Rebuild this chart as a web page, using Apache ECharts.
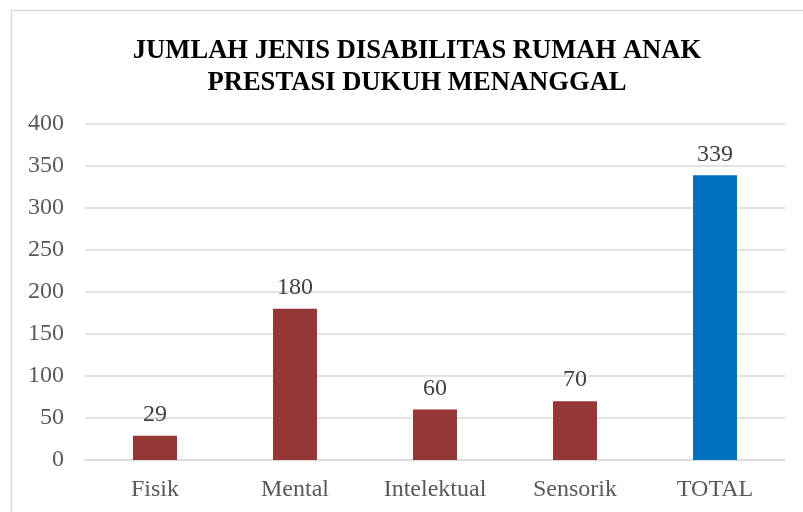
<!DOCTYPE html>
<html>
<head>
<meta charset="utf-8">
<script src="https://cdn.jsdelivr.net/npm/echarts@6/dist/echarts.min.js"></script>
<style>
  html, body { margin: 0; padding: 0; background: #fff; }
  #chart { width: 803px; height: 512px; }
</style>
</head>
<body>
<div id="chart"></div>
<script>
  // data
  const categories = ['Fisik', 'Mental', 'Intelektual', 'Sensorik', 'TOTAL'];
  const values = [29, 180, 60, 70, 339];
  const barColors = ['#953735', '#953735', '#953735', '#953735', '#0070C0'];
  const titleText = 'JUMLAH JENIS DISABILITAS RUMAH ANAK\nPRESTASI DUKUH MENANGGAL';

  const serif = '"Liberation Serif", "DejaVu Serif", serif';
  const chart = echarts.init(document.getElementById('chart'));

  chart.setOption({
    animation: false,
    textStyle: { fontFamily: serif },
    title: {
      text: titleText,
      // the chart frame is offset to the right, so the title sits a bit right of centre
      left: 412,
      top: 30,
      textAlign: 'center',
      textStyle: {
        fontFamily: serif,
        fontWeight: 'bold',
        fontSize: 26.6,
        lineHeight: 32,
        color: '#000'
      }
    },
    graphic: [
      {
        type: 'rect',
        shape: { x: 11.5, y: 10.5, width: 800, height: 510 },
        style: { fill: 'none', stroke: '#d9d9d9', lineWidth: 1.5 },
        silent: true
      }
    ],
    grid: { left: 85, right: 18, top: 124, bottom: 52 },
    xAxis: {
      type: 'category',
      data: categories,
      axisLine: { show: true, lineStyle: { color: '#d9d9d9', width: 1.5 } },
      axisTick: { show: false },
      axisLabel: { fontFamily: serif, fontSize: 24, color: '#595959', margin: 18 }
    },
    yAxis: {
      type: 'value',
      min: 0,
      max: 400,
      interval: 50,
      axisLine: { show: false },
      axisTick: { show: false },
      splitLine: { lineStyle: { color: '#d9d9d9', width: 1.5 } },
      axisLabel: { fontFamily: serif, fontSize: 24, color: '#595959', margin: 21 }
    },
    series: [
      {
        type: 'bar',
        barWidth: 44,
        data: values.map((v, i) => ({ value: v, itemStyle: { color: barColors[i] } })),
        label: {
          show: true,
          position: 'top',
          distance: 9,
          fontFamily: serif,
          fontSize: 24,
          color: '#404040'
        }
      }
    ]
  });
</script>
</body>
</html>
